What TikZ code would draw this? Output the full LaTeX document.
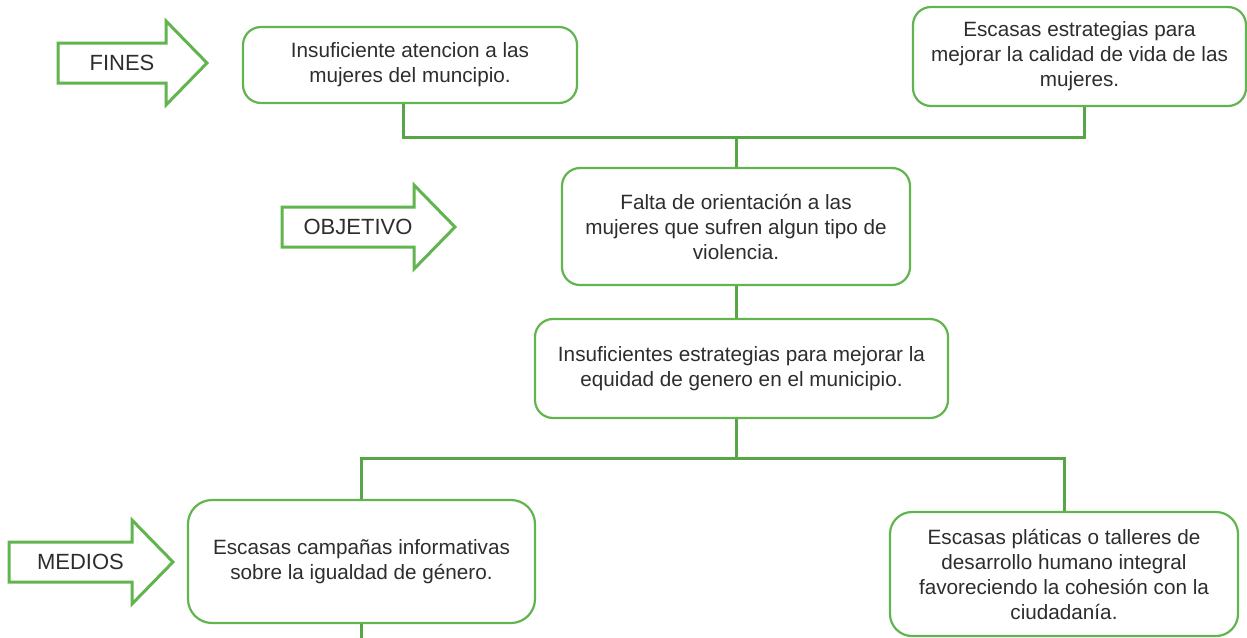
\documentclass[tikz,border=0pt]{standalone}
\usepackage{fontspec}
\setmainfont{Liberation Sans}
\usepackage{xcolor}
\definecolor{treegreen}{RGB}{98,180,78}
\definecolor{linkgreen}{RGB}{86,166,72}
\definecolor{txtgray}{RGB}{45,45,45}
\usetikzlibrary{positioning, calc}

\tikzset{
  box/.style={draw=treegreen, line width=2.2pt, rounded corners=18pt, align=center,
    text=txtgray, font=\fontsize{20.7}{25}\selectfont, inner sep=0pt},
  link/.style={draw=linkgreen, line width=3pt},
  tagarrow/.style={draw=treegreen, line width=3pt, fill=white, line join=miter},
  tagtext/.style={text=txtgray, font=\fontsize{22}{25}\selectfont},
}

\begin{document}
\begin{tikzpicture}[x=1pt, y=-1pt]
  \useasboundingbox (0,0) rectangle (1247,637);

  % Side arrows (FINES / OBJETIVO / MEDIOS)
  \foreach \name/\xa/\xb/\yc/\txt in {fines/58/166/63/FINES, objet/282/414/227/OBJETIVO, medios/9/132/562/MEDIOS}{
    \draw[tagarrow] (\xa,\yc-20) -- (\xb,\yc-20) -- (\xb,\yc-42) -- (\xb+41,\yc)
      -- (\xb,\yc+42) -- (\xb,\yc+20) -- (\xa,\yc+20) -- cycle;
    \node[tagtext] (\name) at ({(\xa+\xb)/2+10},\yc) {\txt};
  }

  % Fines
  \node[box, minimum width=334pt, minimum height=76pt] (aten) at (410,65)
    {Insuficiente atencion a las\\mujeres del muncipio.};
  \node[box, minimum width=333pt, minimum height=99pt] (estr) at (1079.5,56.5)
    {Escasas estrategias para\\mejorar la calidad de vida de las\\mujeres.};

  % Objetivo
  \node[box, minimum width=348pt, minimum height=117pt] (falta) at (736,226.5)
    {Falta de orientación a las\\mujeres que sufren algun tipo de\\violencia.};
  \node[box, minimum width=413pt, minimum height=99pt] (ideq) at (741.5,368.5)
    {Insuficientes estrategias para mejorar la\\equidad de genero en el municipio.};

  % Medios
  \node[box, rounded corners=24pt, minimum width=347pt, minimum height=123pt] (camp) at (361.5,561.5)
    {Escasas campañas informativas\\sobre la igualdad de género.};
  \node[box, rounded corners=22pt, minimum width=348pt, minimum height=124pt] (plat) at (1064,574)
    {Escasas pláticas o talleres de\\desarrollo humano integral\\favoreciendo la cohesión con la\\ciudadanía.};

  % Connectors
  \coordinate (jtop) at (falta.north |- 0,137);
  \coordinate (jbot) at (falta.south |- 0,458);
  \coordinate (tail) at (camp.south |- 0,640);
  \draw[link] ([xshift=-7pt]aten.south) |- (jtop) -| ([xshift=5pt]estr.south);
  \draw[link] (jtop) -- (falta.north);
  \draw[link] (falta.south) -- (falta.south |- ideq.north);
  \draw[link] (jbot |- ideq.south) -- (jbot);
  \draw[link] (camp.north) |- (jbot) -| (plat.north);
  \draw[link] (camp.south) -- (tail);
\end{tikzpicture}
\end{document}
